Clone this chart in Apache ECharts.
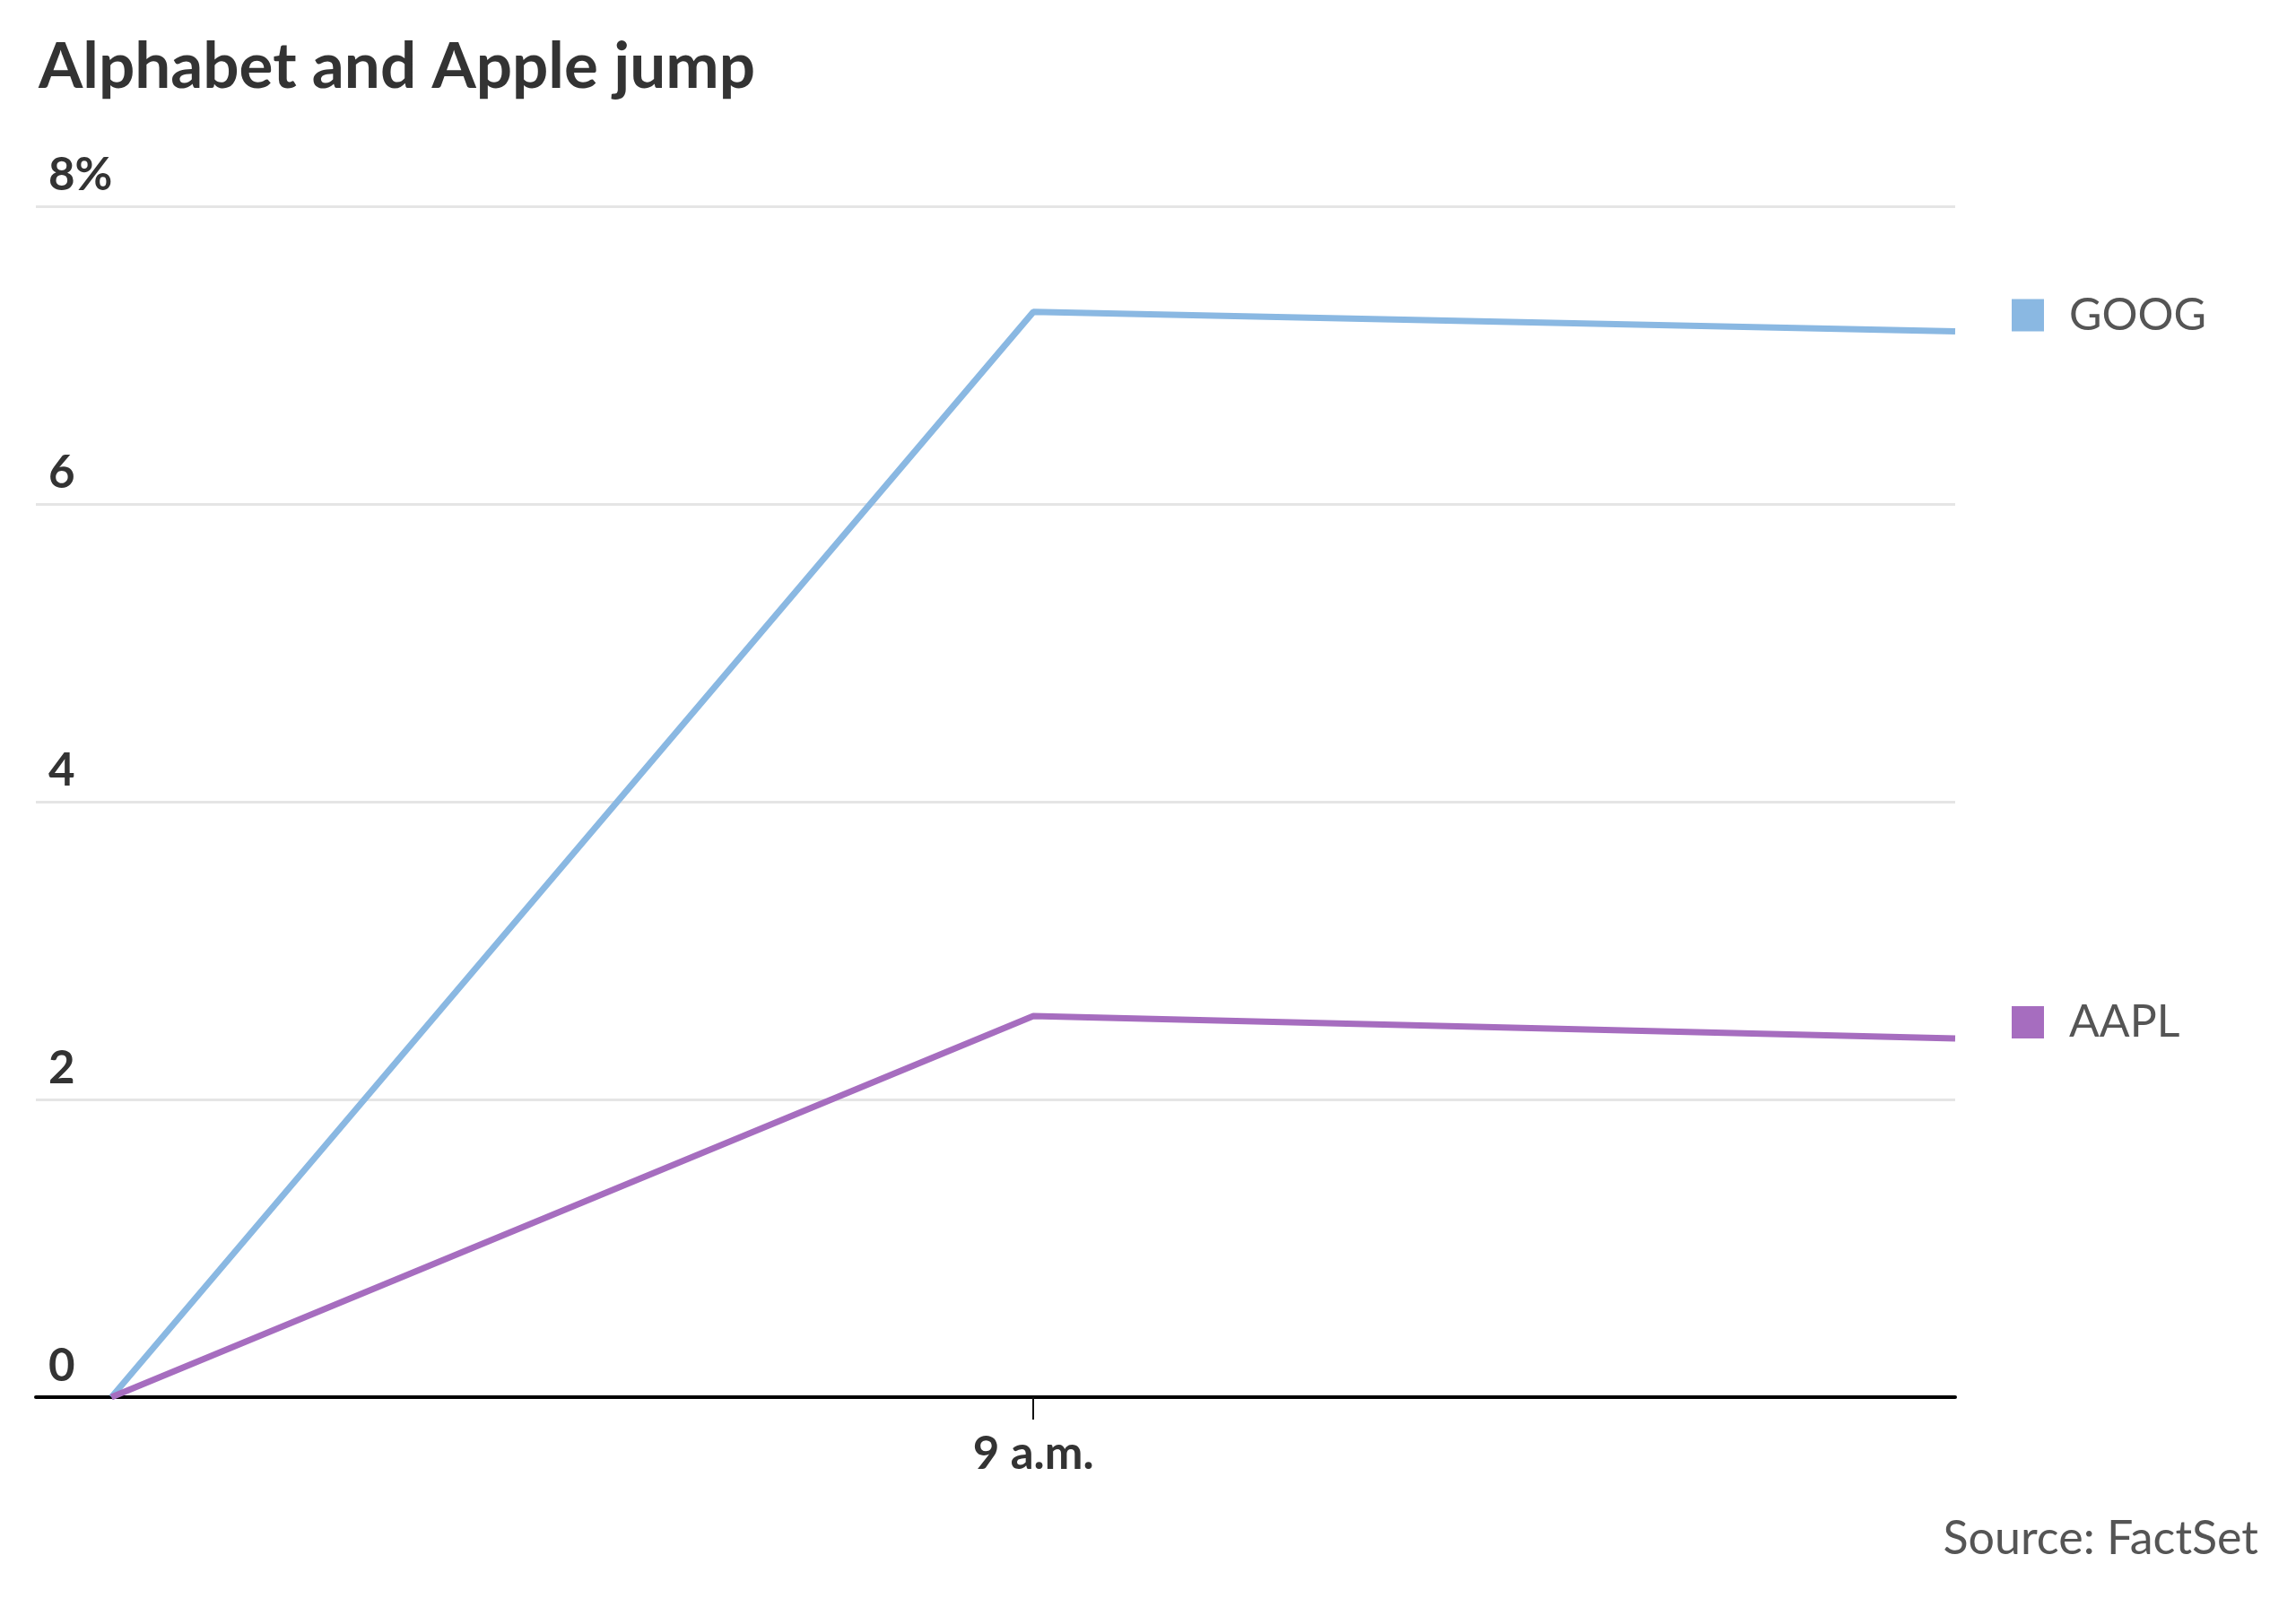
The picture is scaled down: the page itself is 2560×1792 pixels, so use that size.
<!DOCTYPE html>
<html>
<head>
<meta charset="utf-8">
<script src="https://cdn.jsdelivr.net/npm/echarts@6/dist/echarts.min.js"></script>
<style>
html,body{margin:0;padding:0;background:#fff;}
#main{width:2560px;height:1792px;}
</style>
</head>
<body>
<div id="main"></div>
<script>
// Data (x in hours of the day)
const times = [8, 9, 10];
const goog = [0, 7.29, 7.16];
const aapl = [0, 2.56, 2.41];
const seriesNames = ['GOOG', 'AAPL'];
const seriesColors = ['#8ab8e2', '#a66dbf'];
const yTicks = [0, 2, 4, 6, 8];
const xTickValues = [9];
const xTickLabels = ['9 a.m.'];

const chart = echarts.init(document.getElementById('main'));

function mkSeries(name, vals, color) {
  return {
    name: name,
    type: 'line',
    data: times.map((t, i) => [t, vals[i]]),
    showSymbol: false,
    symbol: 'none',
    lineStyle: { color: color, width: 7 },
    itemStyle: { color: color },
    emphasis: { disabled: true },
    endLabel: {
      show: true,
      offset: [55, -18],
      formatter: '{sq|}{n|' + name + '}',
      rich: {
        sq: { backgroundColor: color, width: 36, height: 36 },
        n: { fontFamily: 'Lato', fontSize: 50, color: '#555555', padding: [0, 0, 0, 28] }
      }
    }
  };
}

chart.setOption({
  animation: false,
  backgroundColor: '#ffffff',
  title: {
    text: 'Alphabet and Apple jump',
    left: 38,
    top: 35,
    textStyle: { fontFamily: 'Lato', fontWeight: 'bold', fontSize: 71, color: '#333333' }
  },
  graphic: [{
    type: 'text',
    right: 42,
    top: 1690,
    style: { text: 'Source: FactSet', font: '52px Lato', fill: '#555555' }
  }],
  grid: { left: 40, right: 380, top: 230, bottom: 234 },
  xAxis: {
    type: 'value',
    min: 7.918,
    max: 10,
    splitLine: { show: false },
    axisLine: { show: true, onZero: true, lineStyle: { color: '#000000', width: 4 } },
    axisTick: { show: true, customValues: xTickValues, length: 25, lineStyle: { color: '#111111', width: 2 } },
    axisLabel: {
      show: true,
      customValues: xTickValues,
      formatter: v => xTickLabels[xTickValues.indexOf(v)] || '',
      fontFamily: 'Lato', fontWeight: 'bold', fontSize: 51, color: '#333333',
      margin: 38
    }
  },
  yAxis: {
    type: 'value',
    min: yTicks[0],
    max: yTicks[yTicks.length - 1],
    interval: 2,
    axisLine: { show: false },
    axisTick: { show: false },
    splitLine: { show: true, lineStyle: { color: '#e5e5e5', width: 3 } },
    axisLabel: {
      inside: true,
      margin: 14,
      align: 'left',
      verticalAlign: 'bottom',
      padding: [0, 0, 9, 0],
      fontFamily: 'Lato', fontWeight: 'bold', fontSize: 51, color: '#333333',
      formatter: v => (v === yTicks[yTicks.length - 1] ? v + '%' : String(v))
    }
  },
  series: [
    mkSeries(seriesNames[0], goog, seriesColors[0]),
    mkSeries(seriesNames[1], aapl, seriesColors[1])
  ]
});
</script>
</body>
</html>
